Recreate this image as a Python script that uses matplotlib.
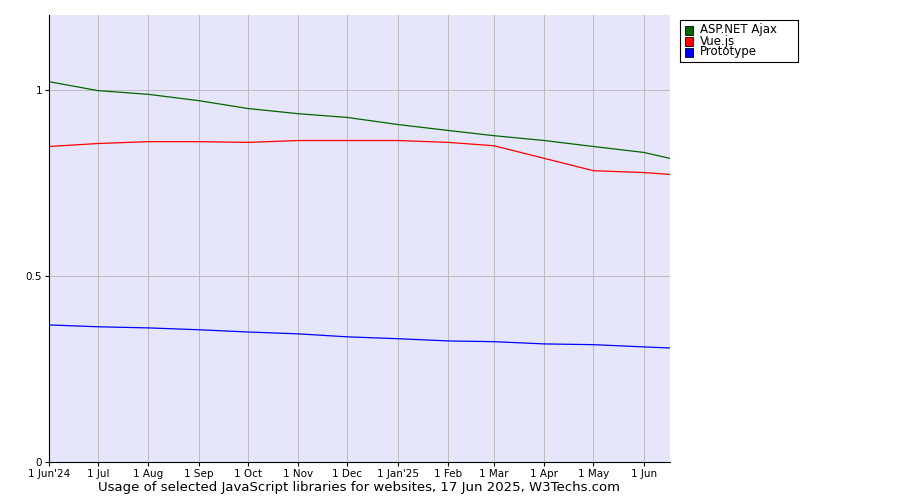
import matplotlib
matplotlib.use("Agg")
import matplotlib.pyplot as plt
import matplotlib.patches as patches
import datetime as dt
import matplotlib.dates as mdates

dates = [dt.date(2024, 6, 1), dt.date(2024, 7, 1), dt.date(2024, 8, 1), dt.date(2024, 9, 1),
         dt.date(2024, 10, 1), dt.date(2024, 11, 1), dt.date(2024, 12, 1), dt.date(2025, 1, 1),
         dt.date(2025, 2, 1), dt.date(2025, 3, 1), dt.date(2025, 4, 1), dt.date(2025, 5, 1),
         dt.date(2025, 6, 1), dt.date(2025, 6, 17)]
tick_labels = ["1 Jun'24", "1 Jul", "1 Aug", "1 Sep", "1 Oct", "1 Nov", "1 Dec",
               "1 Jan'25", "1 Feb", "1 Mar", "1 Apr", "1 May", "1 Jun"]
aspnet = [1.021, 0.997, 0.987, 0.970, 0.949, 0.935, 0.925, 0.906, 0.890, 0.876, 0.863, 0.847, 0.831, 0.815]
vue = [0.847, 0.855, 0.860, 0.860, 0.858, 0.863, 0.863, 0.863, 0.858, 0.849, 0.815, 0.782, 0.777, 0.772]
prototype = [0.368, 0.363, 0.360, 0.355, 0.349, 0.344, 0.336, 0.331, 0.325, 0.323, 0.317, 0.315, 0.309, 0.306]

series = [("ASP.NET Ajax", aspnet, "#006400"), ("Vue.js", vue, "#ff0000"), ("Prototype", prototype, "#0000ff")]

fig = plt.figure(figsize=(9, 5), dpi=100)
ax = fig.add_axes([49 / 900, 38 / 500, 621 / 900, 447 / 500])
ax.set_facecolor("#e6e6fa")
x = mdates.date2num(dates)
for name, vals, col in series:
    ax.plot(x, vals, color=col, lw=0.9)

ax.set_xlim(x[0], x[-1])
ax.set_ylim(0, 1.2)
ax.set_xticks(x[:13])
ax.set_xticklabels(tick_labels, fontsize=7.5)
ax.set_yticks([0, 0.5, 1])
ax.set_yticklabels(["0", "0.5", "1"], fontsize=7.5)
ax.grid(True, color="#bbbbbb", lw=0.7)
ax.tick_params(length=3, pad=2)
for s in ["top", "right"]:
    ax.spines[s].set_visible(False)

# legend outside the plot
leg = fig.add_axes([680 / 900, 438 / 500, 118 / 900, 42 / 500])
leg.set_xlim(0, 118); leg.set_ylim(42, 0)
leg.set_xticks([]); leg.set_yticks([])
for i, (name, vals, col) in enumerate(series):
    y = 10 + i * 11
    leg.add_patch(patches.Rectangle((5, y - 4.5), 8, 9, fc=col, ec="black", lw=0.6))
    leg.text(20, y, name, fontsize=8.5, va="center")

fig.text(359 / 900, 1 - 488 / 500, "Usage of selected JavaScript libraries for websites, 17 Jun 2025, W3Techs.com",
         ha="center", va="center", fontsize=9.5)
fig.savefig("out.png", dpi=100)
